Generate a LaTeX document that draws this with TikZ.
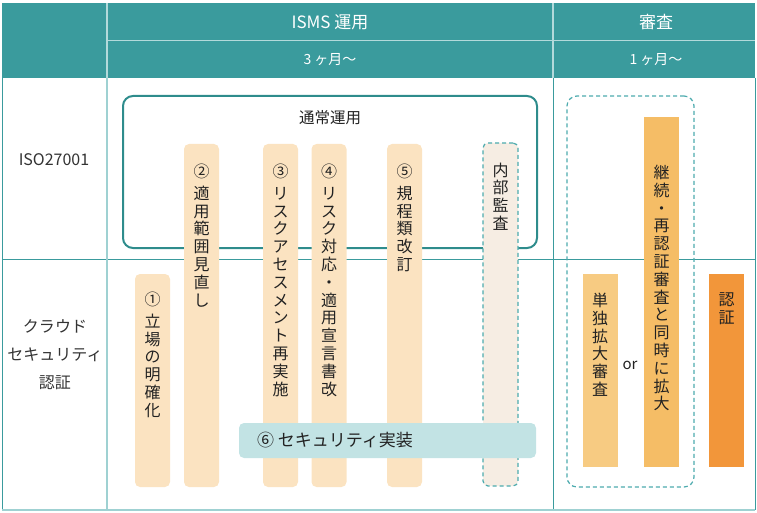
\documentclass[tikz,border=0pt]{standalone}
\usepackage{fontspec}
\setmainfont{Noto Sans CJK JP}
\usetikzlibrary{positioning}

\definecolor{headteal}{HTML}{3A9B9D}
\definecolor{headline}{HTML}{B3DADB}
\definecolor{lightteal}{HTML}{9FD1D2}
\definecolor{boxteal}{HTML}{2E8C8C}
\definecolor{dashteal}{HTML}{4DABAE}
\definecolor{peach}{HTML}{FBE3C1}
\definecolor{auditfill}{HTML}{F6EDE3}
\definecolor{implfill}{HTML}{C2E3E4}
\definecolor{singlefill}{HTML}{F7CB82}
\definecolor{renewfill}{HTML}{F5BD66}
\definecolor{certfill}{HTML}{F2963A}
\definecolor{textdark}{HTML}{222222}
\definecolor{textgray}{HTML}{333333}

\begin{document}
\begin{tikzpicture}[x=1pt,y=-1pt,
  headcell/.style={text=white, inner sep=0pt},
  rowlbl/.style={text=textgray, font=\fontsize{16}{28}\selectfont, align=center, inner sep=0pt},
  stepbar/.style={fill=peach, rounded corners=5pt, minimum width=35pt, inner sep=0pt},
  sqbar/.style={minimum width=35pt, inner sep=0pt},
  tate/.style={align=center, text=textdark, font=\fontsize{16}{17.8}\selectfont, inner sep=0pt},
  tline/.style={headteal, line width=1pt}]

\useasboundingbox (0,0) rectangle (757,513);

% the header of the table
  \fill[headteal] (2,3) rectangle (755,78);
  \draw[headline, line width=1.5pt] (107,40.5) -- (755,40.5)
        (107,3) -- (107,78) (553,3) -- (553,78);
  \node[headcell, font=\fontsize{17}{19}\selectfont] (isms)  at (330,22) {ISMS 運用};
  \node[headcell, font=\fontsize{17}{19}\selectfont] (audit) at (656,22) {審査};
  \node[headcell, font=\fontsize{14}{16}\selectfont] (ismst) at (330,60) {3 ヶ月〜};
  \node[headcell, font=\fontsize{14}{16}\selectfont] (auditt) at (656,60) {1 ヶ月〜};

% the body lines
  \draw[tline] (2,78) -- (2,510) (553,78) -- (553,510) (755,78) -- (755,510)
        (2,259) -- (755,259);
  \draw[lightteal, line width=2pt] (107,78) -- (107,510) (2,510) -- (755,510);

% the row labels
  \node[rowlbl] (iso)   at (54,160) {ISO27001};
  \node[rowlbl] (cloud) at (55,355) {クラウド\\セキュリティ\\認証};

% the frames
  \node[draw=boxteal, line width=2pt, rounded corners=10pt, minimum width=414pt,
        minimum height=152pt, inner sep=0pt] (normal) at (330,172) {};
  \node[font=\fontsize{15.5}{17}\selectfont, text=textdark, below=12pt of normal.north] (normallbl) {通常運用};
  \node[draw=dashteal, line width=1.2pt, dash pattern=on 4pt off 3pt, rounded corners=10pt,
        minimum width=127pt, minimum height=391pt, inner sep=0pt] (review) at (630.5,291.5) {};

% the steps
  \node[stepbar, minimum height=213pt] (s1) at (152.5,380.5) {};
  \node[stepbar, minimum height=343pt] (s2) at (201.5,315.5) {};
  \node[stepbar, minimum height=343pt] (s3) at (280.5,315.5) {};
  \node[stepbar, minimum height=343pt] (s4) at (329,315.5) {};
  \node[stepbar, minimum height=343pt] (s5) at (404.5,315.5) {};
  \node[stepbar, fill=auditfill, draw=dashteal, line width=1.2pt, dash pattern=on 4pt off 3pt,
        minimum height=343pt] (inaudit) at (500.5,314.5) {};
  \node[stepbar, fill=implfill, minimum width=297pt, minimum height=35pt] (s6) at (387.5,440.5) {};

  \node[tate, below=18pt of s1.north] (t1) {①\\[4pt]立\\場\\の\\明\\確\\化};
  \node[tate, below=20pt of s2.north] (t2) {②\\[4pt]適\\用\\範\\囲\\見\\直\\し};
  \node[tate, below=20pt of s3.north] (t3) {③\\[4pt]リ\\ス\\ク\\ア\\セ\\ス\\メ\\ン\\ト\\再\\実\\施};
  \node[tate, below=20pt of s4.north] (t4) {④\\[4pt]リ\\ス\\ク\\対\\応\\・\\適\\用\\宣\\言\\書\\改};
  \node[tate, below=20pt of s5.north] (t5) {⑤\\[4pt]規\\程\\類\\改\\訂};
  \node[tate, below=20pt of inaudit.north] (tin) {内\\部\\監\\査};
  \node[font=\fontsize{17}{19}\selectfont, text=textdark, inner sep=0pt,
        right=18pt of s6.west] (t6) {⑥ セキュリティ実装};

% the review bars
  \node[sqbar, fill=singlefill, minimum height=193pt] (single) at (600,370.5) {};
  \node[sqbar, fill=renewfill, minimum height=350pt] (renew) at (661.5,292) {};
  \node[sqbar, fill=certfill, minimum height=193pt] (cert) at (726.5,370.5) {};

  \node[tate, below=19pt of single.north] (tsingle) {単\\独\\拡\\大\\審\\査};
  \node[tate, below=48pt of renew.north] (trenew) {継\\続\\・\\再\\認\\証\\審\\査\\と\\同\\時\\に\\拡\\大};
  \node[tate, below=19pt of cert.north] (tcert) {認\\証};
  \node[font=\fontsize{15}{17}\selectfont, text=textdark, inner sep=0pt] (orlbl) at (630,365) {or};

\end{tikzpicture}
\end{document}
